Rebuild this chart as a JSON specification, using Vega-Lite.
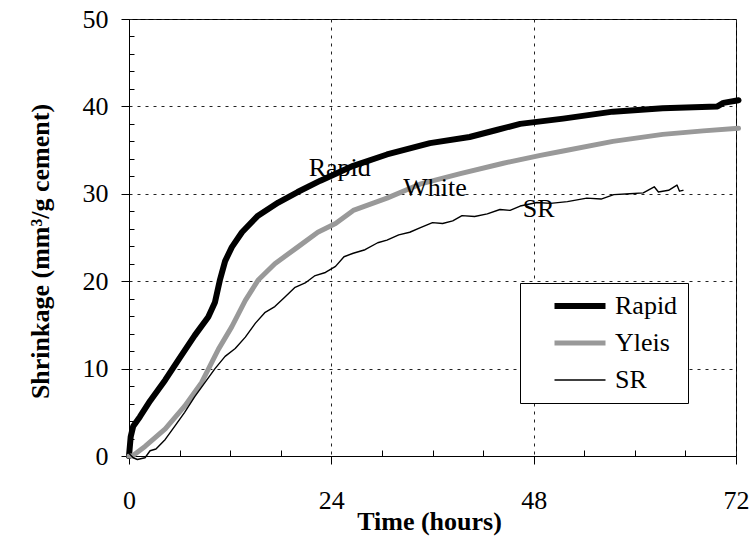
{
  "$schema": "https://vega.github.io/schema/vega-lite/v6.json",
  "autosize": "none",
  "width": 607,
  "height": 437,
  "padding": {"left": 129, "top": 19, "right": 16, "bottom": 87},
  "background": "white",
  "config": {
    "font": "Liberation Serif",
    "view": {"stroke": "black", "strokeWidth": 1},
    "style": {"guide-label": {"font": "Liberation Serif", "fill": "black"}, "guide-title": {"font": "Liberation Serif"}},
    "legend": {"labelFont": "Liberation Serif", "labelFontSize": 26, "labelColor": "black"}
  },
  "datasets": {
    "curves": [
      {"series": "Rapid", "t": 0, "s": 0},
      {"series": "Rapid", "t": 0.2, "s": 2.2},
      {"series": "Rapid", "t": 0.5, "s": 3.4},
      {"series": "Rapid", "t": 1.3, "s": 4.5},
      {"series": "Rapid", "t": 2.5, "s": 6.3},
      {"series": "Rapid", "t": 4.3, "s": 8.7},
      {"series": "Rapid", "t": 6, "s": 11.2},
      {"series": "Rapid", "t": 7.8, "s": 13.8},
      {"series": "Rapid", "t": 9.4, "s": 15.9},
      {"series": "Rapid", "t": 10.2, "s": 17.6},
      {"series": "Rapid", "t": 10.8, "s": 20.2},
      {"series": "Rapid", "t": 11.4, "s": 22.3},
      {"series": "Rapid", "t": 12.2, "s": 23.9},
      {"series": "Rapid", "t": 13.4, "s": 25.6},
      {"series": "Rapid", "t": 15.3, "s": 27.5},
      {"series": "Rapid", "t": 17.7, "s": 29.0},
      {"series": "Rapid", "t": 20, "s": 30.2},
      {"series": "Rapid", "t": 22.7, "s": 31.5},
      {"series": "Rapid", "t": 26.6, "s": 33.2},
      {"series": "Rapid", "t": 30.6, "s": 34.5},
      {"series": "Rapid", "t": 35.7, "s": 35.8},
      {"series": "Rapid", "t": 40.4, "s": 36.5},
      {"series": "Rapid", "t": 43.6, "s": 37.3},
      {"series": "Rapid", "t": 46.4, "s": 38.0},
      {"series": "Rapid", "t": 51.5, "s": 38.6},
      {"series": "Rapid", "t": 57.4, "s": 39.4},
      {"series": "Rapid", "t": 63.3, "s": 39.8},
      {"series": "Rapid", "t": 69.8, "s": 40.0},
      {"series": "Rapid", "t": 70.5, "s": 40.4},
      {"series": "Rapid", "t": 72.3, "s": 40.7},
      {"series": "Yleis", "t": 0, "s": 0},
      {"series": "Yleis", "t": 0.4, "s": 0},
      {"series": "Yleis", "t": 1.9, "s": 1.1},
      {"series": "Yleis", "t": 4.3, "s": 3.1},
      {"series": "Yleis", "t": 6.6, "s": 5.7},
      {"series": "Yleis", "t": 8.6, "s": 8.4},
      {"series": "Yleis", "t": 10.6, "s": 12.2},
      {"series": "Yleis", "t": 12.2, "s": 14.8},
      {"series": "Yleis", "t": 13.8, "s": 17.8},
      {"series": "Yleis", "t": 15.3, "s": 20.1},
      {"series": "Yleis", "t": 17.3, "s": 22.0},
      {"series": "Yleis", "t": 20, "s": 23.9},
      {"series": "Yleis", "t": 22.4, "s": 25.6},
      {"series": "Yleis", "t": 24.5, "s": 26.6},
      {"series": "Yleis", "t": 26.6, "s": 28.1},
      {"series": "Yleis", "t": 30.6, "s": 29.5},
      {"series": "Yleis", "t": 34.5, "s": 31.1},
      {"series": "Yleis", "t": 39.3, "s": 32.3},
      {"series": "Yleis", "t": 44.4, "s": 33.5},
      {"series": "Yleis", "t": 48.8, "s": 34.4},
      {"series": "Yleis", "t": 51.5, "s": 34.9},
      {"series": "Yleis", "t": 57.4, "s": 36.0},
      {"series": "Yleis", "t": 63.3, "s": 36.8},
      {"series": "Yleis", "t": 68.1, "s": 37.2},
      {"series": "Yleis", "t": 72.3, "s": 37.5},
      {"series": "SR", "t": 0, "s": 0.3},
      {"series": "SR", "t": 0.5, "s": -0.2},
      {"series": "SR", "t": 1, "s": -0.4},
      {"series": "SR", "t": 1.9, "s": -0.2},
      {"series": "SR", "t": 2.5, "s": 0.6},
      {"series": "SR", "t": 3.2, "s": 0.8},
      {"series": "SR", "t": 4.3, "s": 1.9},
      {"series": "SR", "t": 5.5, "s": 3.5},
      {"series": "SR", "t": 6.6, "s": 5.0},
      {"series": "SR", "t": 7.8, "s": 6.8},
      {"series": "SR", "t": 9, "s": 8.4},
      {"series": "SR", "t": 10.2, "s": 10.0},
      {"series": "SR", "t": 11.4, "s": 11.4},
      {"series": "SR", "t": 12.6, "s": 12.3},
      {"series": "SR", "t": 13.8, "s": 13.6},
      {"series": "SR", "t": 15, "s": 15.2},
      {"series": "SR", "t": 16.1, "s": 16.4},
      {"series": "SR", "t": 17.3, "s": 17.1},
      {"series": "SR", "t": 18.5, "s": 18.2},
      {"series": "SR", "t": 19.7, "s": 19.3},
      {"series": "SR", "t": 20.9, "s": 19.8},
      {"series": "SR", "t": 22, "s": 20.6},
      {"series": "SR", "t": 23.3, "s": 21.0},
      {"series": "SR", "t": 24.5, "s": 21.7},
      {"series": "SR", "t": 25.5, "s": 22.8},
      {"series": "SR", "t": 26.6, "s": 23.2},
      {"series": "SR", "t": 28, "s": 23.6},
      {"series": "SR", "t": 29.5, "s": 24.4},
      {"series": "SR", "t": 30.6, "s": 24.7},
      {"series": "SR", "t": 32, "s": 25.3},
      {"series": "SR", "t": 33.3, "s": 25.6},
      {"series": "SR", "t": 34.5, "s": 26.1},
      {"series": "SR", "t": 36, "s": 26.7},
      {"series": "SR", "t": 37.2, "s": 26.6},
      {"series": "SR", "t": 38.4, "s": 26.9},
      {"series": "SR", "t": 39.5, "s": 27.5},
      {"series": "SR", "t": 41, "s": 27.4},
      {"series": "SR", "t": 42.5, "s": 27.7},
      {"series": "SR", "t": 44, "s": 28.2},
      {"series": "SR", "t": 45.2, "s": 28.1},
      {"series": "SR", "t": 46.4, "s": 28.6},
      {"series": "SR", "t": 48.4, "s": 29.0},
      {"series": "SR", "t": 50, "s": 28.9},
      {"series": "SR", "t": 52, "s": 29.1},
      {"series": "SR", "t": 54.3, "s": 29.5},
      {"series": "SR", "t": 56, "s": 29.4},
      {"series": "SR", "t": 57.5, "s": 29.9},
      {"series": "SR", "t": 59.4, "s": 30.0},
      {"series": "SR", "t": 61, "s": 30.1},
      {"series": "SR", "t": 62.3, "s": 30.8},
      {"series": "SR", "t": 62.8, "s": 30.2},
      {"series": "SR", "t": 64, "s": 30.4},
      {"series": "SR", "t": 65, "s": 31.0},
      {"series": "SR", "t": 65.3, "s": 30.3},
      {"series": "SR", "t": 65.7, "s": 30.4}
    ],
    "notes": [
      {"label": "Rapid", "t": 25.0, "s": 33.0},
      {"label": "White", "t": 36.3, "s": 30.7},
      {"label": "SR", "t": 48.6, "s": 28.3}
    ]
  },
  "resolve": {"axis": {"x": "independent", "y": "independent"}},
  "layer": [
    {
      "data": {"name": "curves"},
      "mark": {"type": "line", "clip": false, "strokeJoin": "round", "strokeCap": "round"},
      "encoding": {
        "x": {
          "field": "t", "type": "quantitative",
          "scale": {"domain": [0, 72], "nice": false, "zero": false},
          "axis": {
            "orient": "bottom",
            "values": [0, 24, 48, 72],
            "labelFont": "Liberation Serif", "labelFontSize": 26, "labelColor": "black",
            "labelPadding": 23, "labelFlush": false, "labelOverlap": false,
            "tickColor": "black", "tickSize": 8,
            "domainColor": "black",
            "grid": true, "gridColor": "#222", "gridDash": [3, 5], "gridWidth": 1,
            "title": "Time (hours)",
            "titleFont": "Liberation Serif", "titleFontSize": 26, "titleFontWeight": "bold", "titleColor": "black",
            "titleX": 300, "titleY": 65, "titleBaseline": "middle", "titleAlign": "center"
          }
        },
        "y": {
          "field": "s", "type": "quantitative",
          "scale": {"domain": [0, 50], "nice": false, "zero": false},
          "axis": {
            "orient": "left",
            "values": [0, 10, 20, 30, 40, 50],
            "labelFont": "Liberation Serif", "labelFontSize": 26, "labelColor": "black",
            "labelPadding": 13, "labelFlush": false, "labelOverlap": false,
            "tickColor": "black", "tickSize": 8,
            "domainColor": "black",
            "grid": true, "gridColor": "#222", "gridDash": [3, 5], "gridWidth": 1,
            "title": "Shrinkage (mm³/g cement)",
            "titleFont": "Liberation Serif", "titleFontSize": 26, "titleFontWeight": "bold", "titleColor": "black",
            "titleX": -89, "titleY": 232, "titleBaseline": "middle", "titleAlign": "center", "titleAngle": -90
          }
        },
        "detail": {"field": "series"},
        "color": {
          "field": "series", "type": "nominal",
          "scale": {"domain": ["Rapid", "Yleis", "SR"], "range": ["#000000", "#999999", "#000000"]},
          "legend": {
            "orient": "none", "legendX": 391, "legendY": 264,
            "title": null,
            "symbolType": "M-2.55,0H2.55", "symbolSize": 400,
            "labelFont": "Liberation Serif", "labelFontSize": 26, "labelColor": "black",
            "labelOffset": 22, "symbolOffset": 37,
            "rowPadding": 11,
            "padding": 10,
            "offset": 0,
            "strokeColor": "black", "fillColor": "white"
          }
        },
        "strokeWidth": {
          "field": "series", "type": "nominal",
          "scale": {"type": "ordinal", "domain": ["Rapid", "Yleis", "SR"], "range": [6, 5, 1.4]},
          "legend": {
            "orient": "none", "legendX": 391, "legendY": 264,
            "title": null,
            "symbolType": "M-2.55,0H2.55", "symbolSize": 400,
            "labelFont": "Liberation Serif", "labelFontSize": 26, "labelColor": "black",
            "labelOffset": 22, "symbolOffset": 37,
            "rowPadding": 11,
            "padding": 10,
            "offset": 0,
            "strokeColor": "black", "fillColor": "white"
          }
        }
      }
    },
    {
      "data": {"name": "notes"},
      "mark": {"type": "text", "font": "Liberation Serif", "fontSize": 26, "color": "black", "align": "center", "baseline": "middle"},
      "encoding": {
        "x": {
          "field": "t", "type": "quantitative",
          "axis": {
            "orient": "bottom",
            "values": [6, 12, 18, 30, 36, 42, 54, 60, 66],
            "labels": false, "domain": false, "grid": false,
            "tickColor": "black", "tickSize": -6, "title": null
          }
        },
        "y": {
          "field": "s", "type": "quantitative",
          "axis": {
            "orient": "left",
            "values": [2, 4, 6, 8, 12, 14, 16, 18, 22, 24, 26, 28, 32, 34, 36, 38, 42, 44, 46, 48],
            "labels": false, "domain": false, "grid": false,
            "tickColor": "black", "tickSize": -5, "title": null
          }
        },
        "text": {"field": "label"}
      }
    }
  ]
}
